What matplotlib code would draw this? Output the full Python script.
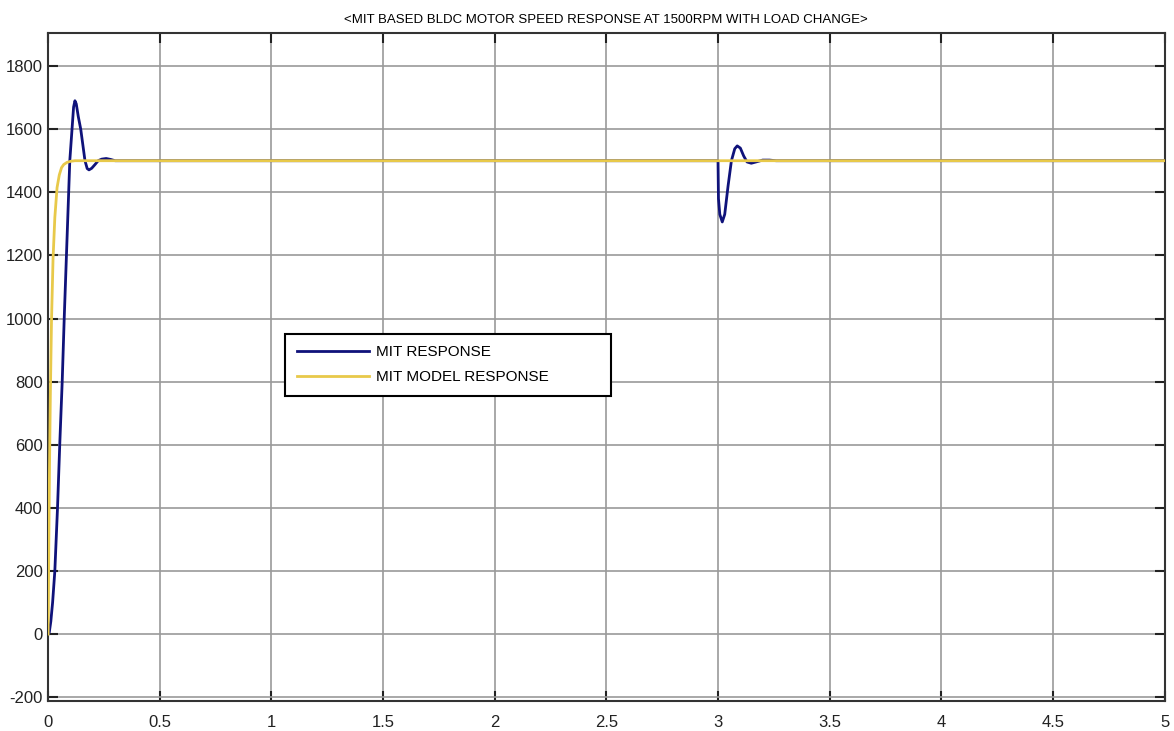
import matplotlib
matplotlib.use("Agg")
import matplotlib.pyplot as plt
import numpy as np

plt.rcParams["font.family"] = ["Liberation Sans", "DejaVu Sans"]
plt.rcParams["axes.unicode_minus"] = False

# MIT RESPONSE (blue)
t_mit = [0, 0.005, 0.012, 0.02, 0.03, 0.042, 0.052, 0.063, 0.072, 0.082, 0.097,
         0.107, 0.114, 0.12, 0.126, 0.135, 0.146, 0.165, 0.175, 0.183, 0.195,
         0.21, 0.224, 0.24, 0.26, 0.28, 0.30, 0.35,
         3.0, 3.002, 3.008, 3.019, 3.03, 3.045, 3.06, 3.075, 3.086, 3.1, 3.115,
         3.13, 3.149, 3.17, 3.2, 3.23, 3.26, 5.0]
v_mit = [0, 5, 40, 100, 200, 400, 600, 800, 1000, 1200, 1500,
         1600, 1670, 1690, 1680, 1640, 1600, 1500, 1475, 1471, 1476,
         1488, 1500, 1505, 1507, 1504, 1500, 1500,
         1500, 1380, 1330, 1306, 1330, 1420, 1500, 1538, 1547, 1540, 1515,
         1496, 1492, 1496, 1502, 1502, 1500, 1500]

# MIT MODEL RESPONSE (yellow)
t_model = [0, 0.003, 0.006, 0.01, 0.015, 0.022, 0.03, 0.04, 0.05, 0.06, 0.07,
           0.085, 0.1, 0.12, 0.15, 5.0]
v_model = [0, 290, 520, 760, 990, 1190, 1320, 1415, 1455, 1478, 1488,
           1495, 1498, 1500, 1500, 1500]

title = "<MIT BASED BLDC MOTOR SPEED RESPONSE AT 1500RPM WITH LOAD CHANGE>"
labels = ["MIT RESPONSE", "MIT MODEL RESPONSE"]
xtick_labels = ["0", "0.5", "1", "1.5", "2", "2.5", "3", "3.5", "4", "4.5", "5"]

fig = plt.figure(figsize=(11.74, 7.31), dpi=100)
ax = fig.add_axes([0.041, 0.041, 0.951, 0.914])

ax.plot(t_mit, v_mit, color="#0f127a", lw=2, label=labels[0], zorder=2)
ax.plot(t_model, v_model, color="#e8c94a", lw=2, label=labels[1], zorder=3)

ax.set_xlim(0, 5)
ax.set_ylim(-212, 1905)
ax.set_xticks(np.arange(0, 5.01, 0.5))
ax.set_xticklabels(xtick_labels)
ax.set_yticks(np.arange(-200, 1801, 200))
ax.grid(True, color="#9a9a9a", lw=1.2)
ax.tick_params(direction="in", top=True, right=True, length=7, width=1.5,
               labelsize=12, colors="#222222")
ax.tick_params(axis="x", pad=10)
ax.tick_params(axis="y", pad=4)
for s in ax.spines.values():
    s.set_linewidth(1.5)
    s.set_color("#333333")

ax.set_title(title, fontsize=9.5, pad=7)

leg = ax.legend(loc="upper left", bbox_to_anchor=(0.2125, 0.46, 0.2915, 0.0895),
                mode="expand", fancybox=False, edgecolor="black", fontsize=11,
                handlelength=4.7, handletextpad=0.45, borderpad=0.75,
                labelspacing=0.7, borderaxespad=0, framealpha=1)
leg.get_frame().set_linewidth(1.5)

fig.savefig("out.png", dpi=100)
